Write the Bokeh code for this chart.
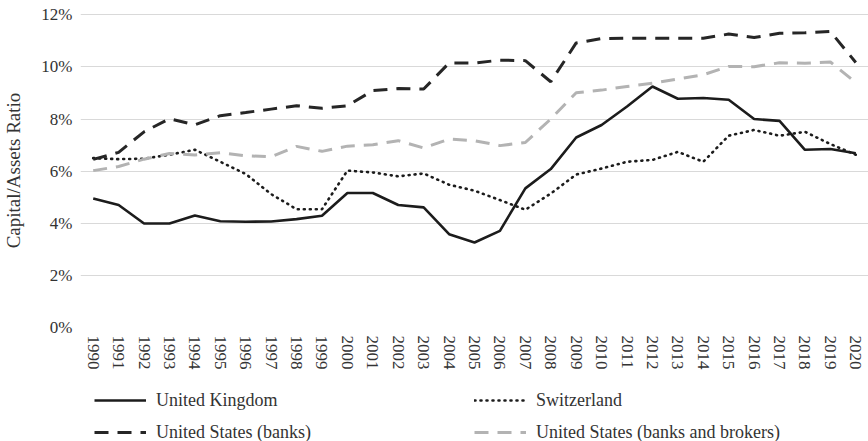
from bokeh.plotting import figure
from bokeh.layouts import column
from bokeh.models import (FactorRange, Range1d, FixedTicker, PrintfTickFormatter,
                          Legend, LegendItem, ColumnDataSource)
from bokeh.embed import file_html
from bokeh.resources import INLINE

years = [str(y) for y in range(1990, 2021)]

uk = [4.95, 4.70, 3.99, 3.99, 4.30, 4.08, 4.06, 4.07, 4.16, 4.29,
      5.16, 5.16, 4.70, 4.61, 3.58, 3.26, 3.71, 5.34, 6.08, 7.29,
      7.77, 8.48, 9.25, 8.78, 8.81, 8.74, 8.00, 7.93, 6.82, 6.85, 6.69]

switzerland = [6.50, 6.46, 6.48, 6.63, 6.82, 6.36, 5.89, 5.12, 4.54, 4.54,
               6.02, 5.95, 5.80, 5.91, 5.48, 5.25, 4.89, 4.52, 5.14, 5.87,
               6.10, 6.36, 6.43, 6.74, 6.36, 7.36, 7.58, 7.36, 7.51, 7.04, 6.63]

us_banks = [6.45, 6.72, 7.51, 8.01, 7.78, 8.13, 8.25, 8.38, 8.51, 8.41,
            8.51, 9.09, 9.17, 9.15, 10.15, 10.15, 10.26, 10.24, 9.43, 10.92,
            11.09, 11.10, 11.10, 11.10, 11.10, 11.26, 11.13, 11.29, 11.31, 11.36, 10.17]

us_banks_brokers = [6.02, 6.18, 6.46, 6.68, 6.62, 6.71, 6.59, 6.55, 6.95, 6.76,
                    6.96, 7.01, 7.17, 6.89, 7.23, 7.17, 6.98, 7.10, 8.00, 9.01,
                    9.11, 9.25, 9.37, 9.54, 9.70, 10.02, 10.01, 10.16, 10.14, 10.19, 9.40]

series_names = ["United Kingdom", "Switzerland", "United States (banks)",
                "United States (banks and brokers)"]
series_cols = ["uk", "ch", "usb", "usbb"]

y_ticks = [0, 2, 4, 6, 8, 10, 12]

FONT = "'Liberation Serif', 'Times New Roman', serif"

styles = [
    dict(line_color="#1c1c1c", line_width=2.6),
    dict(line_color="#1c1c1c", line_width=2.6, line_dash="1 5", line_cap="round"),
    dict(line_color="#262626", line_width=3, line_dash="14 9"),
    dict(line_color="#b3b3b3", line_width=3, line_dash="14 9"),
]

src = ColumnDataSource(dict(year=years, uk=uk, ch=switzerland,
                            usb=us_banks, usbb=us_banks_brokers))

p = figure(width=868, height=378, x_range=FactorRange(*years, range_padding=0),
           y_range=Range1d(0, 12.05), output_backend="svg", toolbar_location=None,
           min_border_left=79, min_border_right=0, min_border_top=13,
           min_border_bottom=51)
p.outline_line_color = None
p.background_fill_color = "white"
p.border_fill_color = "white"

for c, st in zip(series_cols, styles):
    p.line("year", c, source=src, **st)

# grid
p.xgrid.grid_line_color = None
p.ygrid.grid_line_color = "#d9d9d9"
p.ygrid.grid_line_width = 1.2
p.ygrid.ticker = FixedTicker(ticks=y_ticks)

# y axis
p.yaxis.ticker = FixedTicker(ticks=y_ticks)
p.yaxis.formatter = PrintfTickFormatter(format="%d%%")
p.yaxis.axis_line_color = None
p.yaxis.major_tick_line_color = None
p.yaxis.minor_tick_line_color = None
p.yaxis.major_tick_out = 0
p.yaxis.major_tick_in = 0
p.yaxis.major_label_standoff = 8
p.yaxis.major_label_text_font = FONT
p.yaxis.major_label_text_font_size = "17px"
p.yaxis.major_label_text_color = "#333333"
p.yaxis.axis_label = "Capital/Assets Ratio"
p.yaxis.axis_label_text_font = FONT
p.yaxis.axis_label_text_font_style = "normal"
p.yaxis.axis_label_text_font_size = "19px"
p.yaxis.axis_label_text_color = "#333333"
p.yaxis.axis_label_standoff = 14

# x axis
p.xaxis.axis_line_color = None
p.xaxis.major_tick_line_color = None
p.xaxis.minor_tick_line_color = None
p.xaxis.major_tick_out = 0
p.xaxis.major_tick_in = 0
p.xaxis.major_label_orientation = "vertical"
p.xaxis.major_label_standoff = 8
p.xaxis.major_label_text_font = FONT
p.xaxis.major_label_text_font_size = "17px"
p.xaxis.major_label_text_color = "#333333"

# legend strip: a second figure whose copies of the series sit outside its
# visible y range, so only the legend is seen
lg = figure(width=868, height=63, x_range=FactorRange(*years, range_padding=0),
            y_range=Range1d(-20, -19), output_backend="svg", toolbar_location=None,
            x_axis_location=None, y_axis_location=None,
            min_border_left=79, min_border_right=0,
            min_border_top=0, min_border_bottom=0)
lg.outline_line_color = None
lg.xgrid.visible = False
lg.ygrid.visible = False
lg.background_fill_color = "white"
lg.border_fill_color = "white"

sample = {}
for name, c, st in zip(series_names, series_cols, styles):
    sample[name] = lg.line("year", c, source=src, **st)

order = ["United Kingdom", "United States (banks)", "Switzerland",
         "United States (banks and brokers)"]
legend = Legend(items=[LegendItem(label=n, renderers=[sample[n]]) for n in order],
                location=(14, -7), ncols=2)
legend.glyph_width = 52
legend.glyph_height = 32
legend.label_height = 32
legend.label_width = 318
legend.label_standoff = 10
legend.spacing = 0
legend.padding = 0
legend.margin = 0
legend.border_line_color = None
legend.background_fill_alpha = 0
legend.label_text_font = FONT
legend.label_text_font_size = "18px"
legend.label_text_color = "#333333"
lg.add_layout(legend)

layout = column(p, lg, spacing=0)
open("out.html", "w").write(file_html(layout, INLINE))
